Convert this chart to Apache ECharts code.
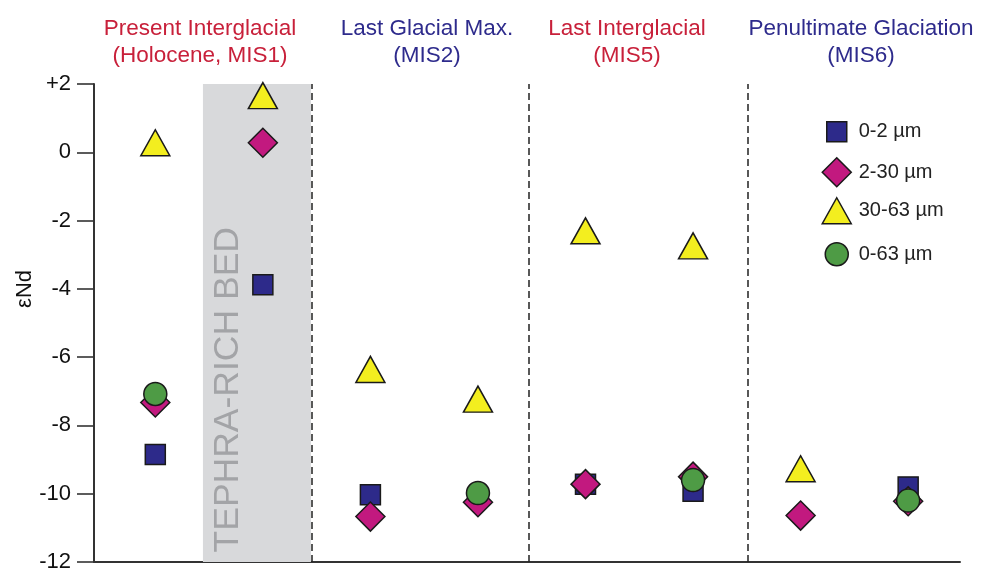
<!DOCTYPE html>
<html>
<head>
<meta charset="utf-8">
<script src="https://cdn.jsdelivr.net/npm/echarts@6/dist/echarts.min.js"></script>
<style>
  html, body { margin: 0; padding: 0; background: #fff; }
  #chart { width: 994px; height: 573px; }
</style>
</head>
<body>
<div id="chart"></div>
<script>
// Sample positions along the record (one column per sample)
var samplePos = [1, 2, 3, 4, 5, 6, 7, 8];

// εNd of each grain-size fraction (null = not measured)
var clay = [-8.85, -3.88, -10.03, null, -9.72, -9.93, null, -9.8];      // 0-2 µm
var fineSilt = [-7.33, 0.28, -10.67, -10.25, -9.72, -9.5, -10.64, -10.22]; // 2-30 µm
var coarseSilt = [0.28, 1.66, -6.36, -7.23, -2.3, -2.74, -9.27, null];  // 30-63 µm
var bulk = [-7.08, null, null, -9.98, null, -9.6, null, -10.2];         // 0-63 µm

var seriesNames = ['0-2 µm', '2-30 µm', '30-63 µm', '0-63 µm'];

// Period boundaries and the tephra-rich interval, in sample-position units
var boundaries = [2.447, 4.474, 6.511];
var tephraBand = [1.443, 2.447];

var periodTitles = [
  'Present Interglacial\n(Holocene, MIS1)',
  'Last Glacial Max.\n(MIS2)',
  'Last Interglacial\n(MIS5)',
  'Penultimate Glaciation\n(MIS6)'
];

var yTicks = { min: -12, max: 2, step: 2 };

var FONT = '"Liberation Sans", Arial, Helvetica, sans-serif';
var EDGE = '#1a1a1a';

function pairs(vals) {
  var out = [];
  for (var i = 0; i < samplePos.length; i++) {
    if (vals[i] !== null) out.push([samplePos[i], vals[i]]);
  }
  return out;
}

var styles = [
  { symbol: 'rect', size: 20, color: '#2d2a8a' },
  { symbol: 'diamond', size: 29, color: '#c2197f' },
  { symbol: 'triangle', size: [29, 26], color: '#f3ee1f' },
  { symbol: 'circle', size: 23, color: '#4e9b45' }
];
var values = [clay, fineSilt, coarseSilt, bulk];

var series = seriesNames.map(function (name, k) {
  return {
    name: name,
    type: 'scatter',
    data: pairs(values[k]),
    symbol: styles[k].symbol,
    symbolSize: styles[k].size,
    itemStyle: { color: styles[k].color, borderColor: EDGE, borderWidth: 1.5, opacity: 1 },
    emphasis: { disabled: true },
    z: 3 + k
  };
});

// Background band + dashed period dividers, carried by a helper series
series.push({
  name: 'dividers',
  type: 'scatter',
  data: [],
  silent: true,
  z: 1,
  markArea: {
    silent: true,
    itemStyle: { color: '#d8d9db' },
    data: [[{ xAxis: tephraBand[0] }, { xAxis: tephraBand[1] }]]
  },
  markLine: {
    silent: true,
    symbol: 'none',
    label: { show: false },
    lineStyle: { color: '#222', width: 1.5, type: [7, 4] },
    data: boundaries.map(function (b) { return { xAxis: b }; })
  }
});

// one legend block per fraction so each icon keeps its own symbol size
var legendCenters = [131, 171.5, 210, 253.5];
var legendX = 836, textX = 858;
var legends = seriesNames.map(function (name, k) {
  var s = styles[k].size;
  var w = Array.isArray(s) ? s[0] : s;
  var h = Array.isArray(s) ? s[1] : s;
  var left = legendX - w / 2;
  return {
    data: [{ name: name, icon: styles[k].symbol }],
    left: left,
    top: legendCenters[k] - h / 2,
    padding: 0,
    itemWidth: w,
    itemHeight: h,
    selectedMode: false,
    itemStyle: { borderColor: EDGE, borderWidth: 1.5 },
    textStyle: {
      fontFamily: FONT, fontSize: 20, color: '#222',
      padding: [0, 0, 0, textX - (left + w + 5)]
    }
  };
});

var titleCenters = [200, 427, 627, 861];
var titleColors = ['#c8203a', '#2e2b8c', '#c8203a', '#2e2b8c'];
var titles = periodTitles.map(function (t, k) {
  return {
    text: t,
    left: titleCenters[k],
    top: 15,
    padding: 0,
    textAlign: 'center',
    textStyle: {
      fontFamily: FONT, fontSize: 22.5, fontWeight: 'normal',
      color: titleColors[k], lineHeight: 27
    }
  };
});

var chart = echarts.init(document.getElementById('chart'), null, { renderer: 'canvas' });
chart.setOption({
  animation: false,
  backgroundColor: '#ffffff',
  title: titles,
  legend: legends,
  grid: { left: 94, right: 34, top: 84, bottom: 7, containLabel: false },
  xAxis: {
    type: 'value',
    min: 0.43,
    max: 8.482,
    axisLine: { show: true, onZero: false, lineStyle: { color: '#333', width: 2 } },
    axisTick: { show: false },
    axisLabel: { show: false },
    splitLine: { show: false }
  },
  yAxis: {
    type: 'value',
    min: yTicks.min,
    max: yTicks.max,
    interval: yTicks.step,
    axisLine: { show: true, lineStyle: { color: '#333', width: 2 } },
    axisTick: { show: true, length: 17, lineStyle: { color: '#333', width: 1.6 } },
    axisLabel: {
      fontFamily: FONT, fontSize: 22, color: '#111', margin: 23,
      formatter: function (v) { return v > 0 ? '+' + v : String(v); }
    },
    splitLine: { show: false }
  },
  graphic: [{
    // y-axis title
    type: 'text',
    left: 14,
    top: 270,
    rotation: Math.PI / 2,
    style: {
      text: 'εNd',
      font: '22px ' + FONT,
      fill: '#111'
    }
  }, {
    type: 'text',
    left: 210,
    top: 227,
    rotation: Math.PI / 2,
    style: {
      text: 'TEPHRA-RICH BED',
      font: '35.5px ' + FONT,
      fill: '#a3a4a7'
    },
    z: 2
  }],
  series: series
});
</script>
</body>
</html>
